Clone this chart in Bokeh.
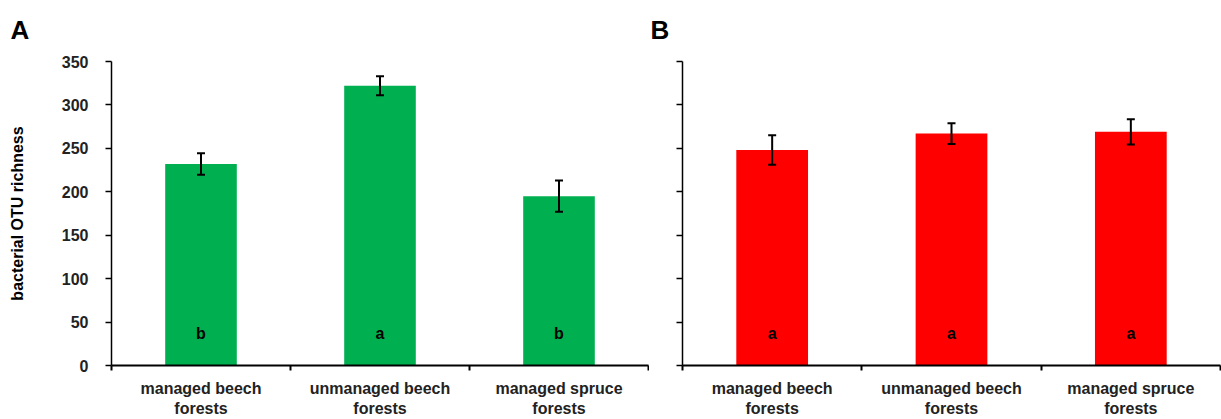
from bokeh.plotting import figure
from bokeh.layouts import row
from bokeh.models import ColumnDataSource, FixedTicker, Whisker, TeeHead, Range1d
from bokeh.core.properties import value
from bokeh.embed import file_html
from bokeh.resources import INLINE

# --- data -------------------------------------------------------------------
categories = ["managed beech\nforests", "unmanaged beech\nforests", "managed spruce\nforests"]

richness_A = [232, 322, 195]
error_A = [12.5, 11, 18]
letters_A = ["b", "a", "b"]

richness_B = [248, 267, 269]
error_B = [17, 12, 14.5]
letters_B = ["a", "a", "a"]

y_ticks = [0, 50, 100, 150, 200, 250, 300, 350]
letter_y = 37

FONT = "Liberation Sans"
HEIGHT = 419


def panel(values, errors, letters, colour, tag, tag_offset, width, left, right,
          show_y_labels):
    n = len(categories)
    centers = [i + 0.5 for i in range(n)]
    src = ColumnDataSource(dict(
        x=centers, top=values,
        upper=[v + e for v, e in zip(values, errors)],
        lower=[v - e for v, e in zip(values, errors)],
        letter=letters, ly=[letter_y] * n,
    ))

    p = figure(width=width, height=HEIGHT, output_backend="svg", toolbar_location=None,
               x_range=Range1d(0, n), y_range=Range1d(0, 350),
               min_border_left=left, min_border_right=right,
               min_border_top=61, min_border_bottom=53,
               outline_line_color=None, background_fill_color="white",
               border_fill_color="white")
    p.grid.visible = False

    # panel tag in the top-left corner
    p.title.text = tag
    p.title.align = "left"
    p.title.vertical_align = "top"
    p.title.offset = tag_offset
    p.title.standoff = 29
    p.title.text_font = FONT
    p.title.text_font_style = "bold"
    p.title.text_font_size = "26px"
    p.title.text_color = "black"

    p.vbar(x="x", top="top", width=0.4, source=src, fill_color=colour,
           line_color=None)

    p.add_layout(Whisker(source=src, base="x", upper="upper", lower="lower",
                         level="overlay",
                         line_color="black", line_width=2,
                         upper_head=TeeHead(size=8, line_width=2, line_color="black"),
                         lower_head=TeeHead(size=8, line_width=2, line_color="black")))

    p.text(x="x", y="ly", text="letter", source=src, text_align="center",
           text_baseline="middle", text_font=value(FONT), text_font_style="bold",
           text_font_size="16px", text_color="black")

    # x axis: labels under categories, tick marks at category boundaries
    xa = p.xaxis[0]
    xa.ticker = FixedTicker(ticks=centers, minor_ticks=list(range(n + 1)))
    xa.major_label_overrides = {c: lab for c, lab in zip(centers, categories)}
    xa.major_tick_out = 0
    xa.major_tick_in = 0
    xa.minor_tick_out = 5
    xa.minor_tick_in = 0
    xa.minor_tick_line_color = "black"
    xa.minor_tick_line_width = 2
    xa.axis_line_color = "black"
    xa.axis_line_width = 2
    xa.major_label_text_font = FONT
    xa.major_label_text_font_style = "bold"
    xa.major_label_text_font_size = "16px"
    xa.major_label_text_color = "#222222"
    xa.major_label_standoff = 9

    ya = p.yaxis[0]
    ya.ticker = FixedTicker(ticks=y_ticks, minor_ticks=[])
    ya.major_tick_out = 6
    ya.major_tick_in = 0
    ya.major_tick_line_width = 1.5
    ya.major_tick_line_color = "black"
    ya.axis_line_color = "black"
    ya.axis_line_width = 1.5
    ya.major_label_text_font = FONT
    ya.major_label_text_font_style = "bold"
    ya.major_label_text_font_size = "16px"
    ya.major_label_text_color = "#222222"
    ya.major_label_standoff = 17
    if show_y_labels:
        ya.axis_label = "bacterial OTU richness"
        ya.axis_label_text_font = FONT
        ya.axis_label_text_font_style = "bold"
        ya.axis_label_text_font_size = "16px"
        ya.axis_label_text_color = "black"
        ya.axis_label_standoff = 33
    else:
        ya.major_label_overrides = {t: "" for t in y_ticks}
    return p


pa = panel(richness_A, error_A, letters_A, "#00B050", "A", -101, 649, 111, 1, True)
pb = panel(richness_B, error_B, letters_B, "#FF0000", "B", -32, 572, 33, 1, False)

layout = row(pa, pb, spacing=0)
open("out.html", "w").write(file_html(layout, INLINE))
